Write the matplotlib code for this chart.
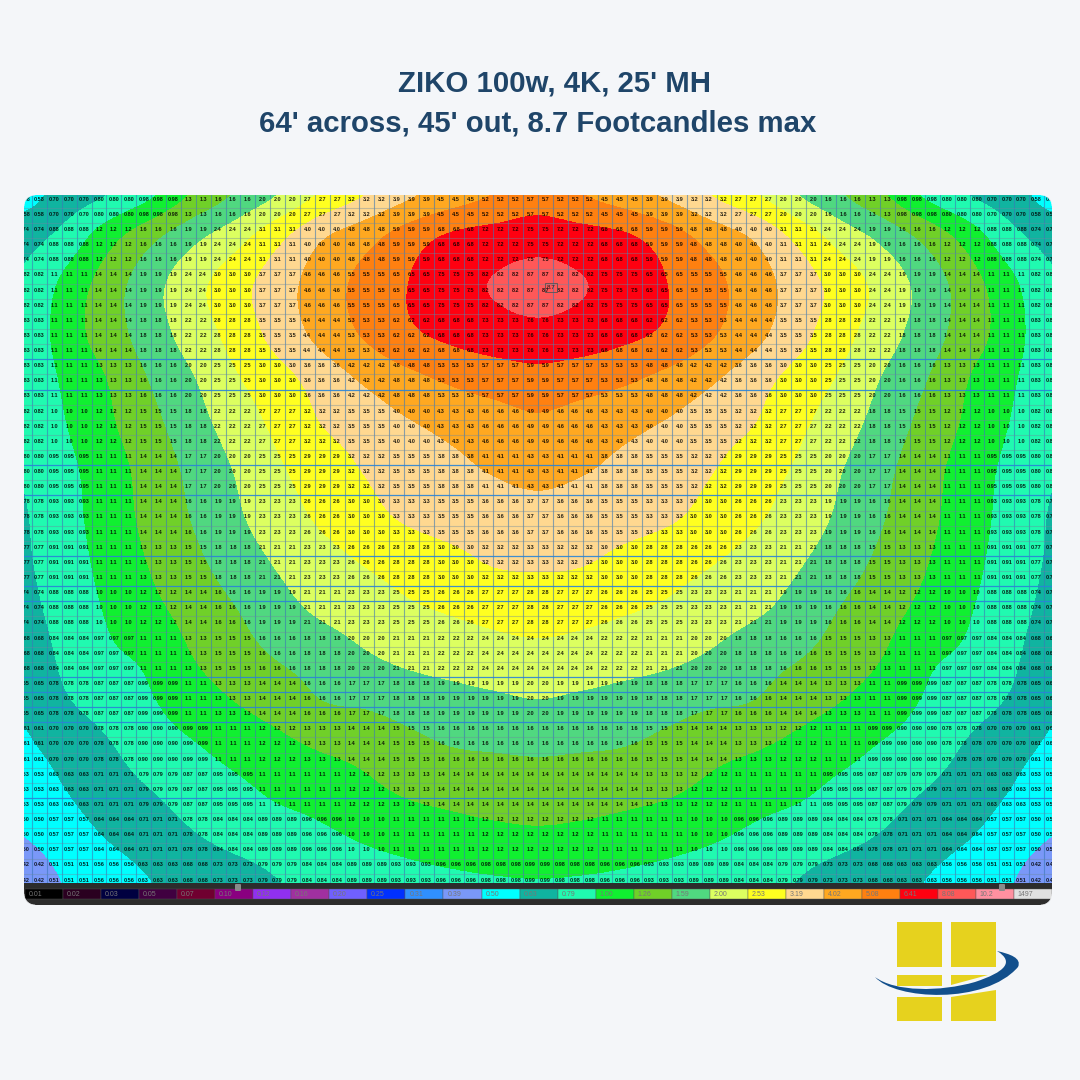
import numpy as np
import matplotlib
matplotlib.use("Agg")
import matplotlib.pyplot as plt
from matplotlib.colors import ListedColormap, BoundaryNorm
from matplotlib.patches import Polygon, Rectangle, PathPatch, FancyBboxPatch
from matplotlib.path import Path

plt.rcParams['font.family'] = ['Liberation Sans', 'DejaVu Sans']

# ---------- data ----------
title_top = "ZIKO 100w, 4K, 25' MH"
title_bottom = "64' across, 45' out, 8.7 Footcandles max"

legend_labels = ["0.01", "0.02", "0.03", "0.05", "0.07", "0.10", "0.12", "0.16", "0.20",
                 "0.25", "0.31", "0.39", "0.50", "0.63", "0.79", "1.00", "1.26", "1.59",
                 "2.00", "2.53", "3.19", "4.02", "5.08", "6.41", "8.08", "10.2", "1497"]
levels = [0.01, 0.02, 0.03, 0.05, 0.07, 0.10, 0.12, 0.16, 0.20,
          0.25, 0.31, 0.39, 0.50, 0.63, 0.79, 1.00, 1.26, 1.59,
          2.00, 2.53, 3.19, 4.02, 5.08, 6.41, 8.08, 10.2, 1497, 9999]
band_colors = ["#000000", "#2a0020", "#000040", "#400040", "#700030", "#8a0080", "#9030f0",
               "#a030a0", "#7060ff", "#0030ff", "#3090ff", "#7a98f8", "#00ffff", "#10b4a0",
               "#20fab0", "#10f030", "#70d028", "#50d880", "#dcff60", "#ffff20", "#ffd890",
               "#ffa820", "#ff8010", "#ff0010", "#ff5858", "#ff90a0", "#e0e0e0"]

# footcandles, left half of the field out to the centre line, top row first
half_rows = [
    [0.58, 0.70, 0.80, 0.98, 1.32, 1.65, 2.05, 2.66, 3.22, 3.90, 4.53, 5.15, 5.70],
    [0.74, 0.88, 1.19, 1.55, 1.95, 2.40, 3.13, 4.05, 4.80, 5.86, 6.80, 7.20, 7.50],
    [0.82, 1.08, 1.43, 1.86, 2.37, 2.96, 3.67, 4.56, 5.50, 6.45, 7.45, 8.20, 8.70],
    [0.83, 1.13, 1.43, 1.81, 2.25, 2.80, 3.53, 4.37, 5.28, 6.20, 6.80, 7.30, 7.60],
    [0.83, 1.05, 1.28, 1.63, 2.00, 2.50, 2.97, 3.56, 4.20, 4.80, 5.30, 5.65, 5.90],
    [0.82, 1.00, 1.22, 1.50, 1.84, 2.25, 2.70, 3.22, 3.55, 3.95, 4.30, 4.60, 4.87],
    [0.80, 0.95, 1.14, 1.40, 1.70, 2.05, 2.48, 2.85, 3.24, 3.50, 3.80, 4.10, 4.30],
    [0.78, 0.93, 1.12, 1.36, 1.63, 1.95, 2.30, 2.65, 3.00, 3.30, 3.48, 3.60, 3.70],
    [0.77, 0.91, 1.08, 1.29, 1.52, 1.79, 2.07, 2.33, 2.58, 2.79, 3.01, 3.25, 3.30],
    [0.74, 0.88, 1.03, 1.20, 1.39, 1.60, 1.87, 2.10, 2.28, 2.47, 2.60, 2.72, 2.80],
    [0.68, 0.84, 0.97, 1.06, 1.28, 1.46, 1.64, 1.78, 1.98, 2.14, 2.25, 2.35, 2.40],
    [0.65, 0.78, 0.87, 0.99, 1.14, 1.28, 1.41, 1.60, 1.66, 1.76, 1.85, 1.93, 2.00],
    [0.61, 0.70, 0.78, 0.90, 0.99, 1.10, 1.20, 1.30, 1.37, 1.50, 1.60, 1.63, 1.65],
    [0.53, 0.63, 0.71, 0.79, 0.87, 0.95, 1.05, 1.11, 1.20, 1.30, 1.36, 1.41, 1.45],
    [0.50, 0.57, 0.64, 0.71, 0.78, 0.84, 0.89, 0.96, 1.03, 1.09, 1.14, 1.18, 1.20],
    [0.42, 0.51, 0.56, 0.63, 0.68, 0.73, 0.79, 0.84, 0.89, 0.93, 0.96, 0.98, 0.99],
]
strong_rows = [10, 12, 17, 19, 23, 25, 26, 31, 32, 33, 34, 39]

half = np.array(half_rows)
field = np.hstack([half, half[:, -2::-1]])
x_ft = np.linspace(-32, 32, field.shape[1])
y_ft = np.linspace(0, 45, field.shape[0])

BG = "#f4f6f9"
NAVY = "#1f4569"
YELLOW = "#e6d21e"

fig = plt.figure(figsize=(10.8, 10.8), dpi=100, facecolor=BG)


def box(x0, y0, x1, y1):
    # pixel box (y down) to figure fractions
    return [x0 / 1080, 1 - y1 / 1080, (x1 - x0) / 1080, (y1 - y0) / 1080]


# ---------- light field ----------
ax = fig.add_axes(box(24, 195, 1052, 883))
cmap = ListedColormap(band_colors)
norm = BoundaryNorm(levels, cmap.N)
dx = x_ft[1] - x_ft[0]
dy = y_ft[1] - y_ft[0]
# catrom goes through the read values, agg's bicubic would smooth the peak away
ax.imshow(field, cmap=cmap, norm=norm, interpolation='catrom', aspect='auto',
          extent=(x_ft[0] - dx / 2, x_ft[-1] + dx / 2, y_ft[-1] + dy / 2, y_ft[0] - dy / 2))
ax.set_xlim(-32, 32)
ax.set_ylim(45, 0)
ax.axis('off')

# meter grid and the reading in every cell
cell_w = 0.9264
cell_h = 0.9895
v_lines = cell_w * np.arange(-34, 35)
h_lines = 0.85 + cell_h * np.arange(45)
for xv in v_lines:
    ax.axvline(xv, color="#3a78b8", lw=0.8, alpha=0.6)
for k, yv in enumerate(h_lines):
    if k in strong_rows:
        ax.axhline(yv, color="#2a84d8", lw=0.9, alpha=0.9)
    else:
        ax.axhline(yv, color="#6c88a0", lw=0.8, alpha=0.4)

for yv in 0.28 + cell_h * np.arange(46):
    row = np.abs(y_ft - yv).argmin()
    for xv in cell_w * (np.arange(-35, 35) + 0.5):
        val = field[row, np.abs(x_ft - xv).argmin()]
        label = f"{val:.2f}" if val < 1 else f"{val:.1f}"
        ax.text(xv, yv, label, fontsize=4.0, fontweight='bold', color="#000000", alpha=0.85,
                ha='center', va='center', clip_on=True)
ax.text(0.8, 6.05, "8.7", fontsize=4.5, color="#202020", ha='center', va='center',
        bbox=dict(boxstyle='square,pad=0.25', fc='none', ec='#555555', lw=0.6))

# ---------- colour key ----------
key = fig.add_axes(box(24, 883, 1052, 905), facecolor="#2c2c2c")
key.bar(np.arange(27), 0.48, width=1, bottom=0.27, align='edge', color=band_colors,
        edgecolor="#555555", linewidth=0.3)
for i, lab in enumerate(legend_labels):
    key.text(i + 0.1, 0.5, lab, fontsize=5, color="#777777", va='center', ha='left')
key.set_xlim(-0.03, 27)
key.set_ylim(0, 1)
key.set_xticks([])
key.set_yticks([])
for s in key.spines.values():
    s.set_visible(False)

# ---------- page furniture in pixel coordinates ----------
top = fig.add_axes([0, 0, 1, 1], zorder=5)
top.patch.set_alpha(0)
top.set_xlim(0, 1080)
top.set_ylim(1080, 0)
top.axis('off')

top.text(554, 83, title_top, fontsize=21.2, fontweight='bold', color=NAVY, ha='center', va='center')
top.text(538, 124, title_bottom, fontsize=21.2, fontweight='bold', color=NAVY, ha='center', va='center')


def corner_mask(cx, cy, sx, sy, r=11):
    # background wedge outside a rounded corner
    t = np.linspace(0, np.pi / 2, 12)
    arc = np.c_[cx + sx * r * np.cos(t), cy + sy * r * np.sin(t)]
    pts = np.vstack([arc, [[cx, cy + sy * (r + 1)], [cx + sx * (r + 1), cy + sy * (r + 1)],
                           [cx + sx * (r + 1), cy]]])
    top.add_patch(Polygon(pts, closed=True, fc=BG, ec=BG, lw=0.5))


corner_mask(35, 206, -1, -1)
corner_mask(1041, 206, 1, -1)
corner_mask(35, 894, -1, 1)
corner_mask(1041, 894, 1, 1)

# sliders on the key
for xs in [238, 1002]:
    top.add_patch(FancyBboxPatch((xs - 2, 885), 4, 5, boxstyle='round,pad=1', fc="#8a8a8a", ec="none"))

# logo
for x0, y0, x1, y1 in [(897, 922, 942, 967), (951, 922, 996, 967),
                       (897, 975, 942, 986), (897, 997, 942, 1021)]:
    top.add_patch(Rectangle((x0, y0), x1 - x0, y1 - y0, fc=YELLOW, ec="none"))
top.add_patch(Polygon([(951, 975), (988, 975), (951, 985)], closed=True, fc=YELLOW, ec="none"))
top.add_patch(Polygon([(951, 997), (996, 990), (996, 1021), (951, 1021)], closed=True, fc=YELLOW, ec="none"))
swoosh = Path([(875, 977), (895, 1000), (985, 1005), (1018, 967),
               (1022, 958), (1010, 954), (997, 951),
               (1015, 962), (1005, 972), (975, 982),
               (940, 992), (895, 992), (875, 977)],
              [Path.MOVETO] + [Path.CURVE4] * 12)
top.add_patch(PathPatch(swoosh, fc="#124f8c", ec="none"))

fig.savefig("out.png", dpi=100, facecolor=BG)
